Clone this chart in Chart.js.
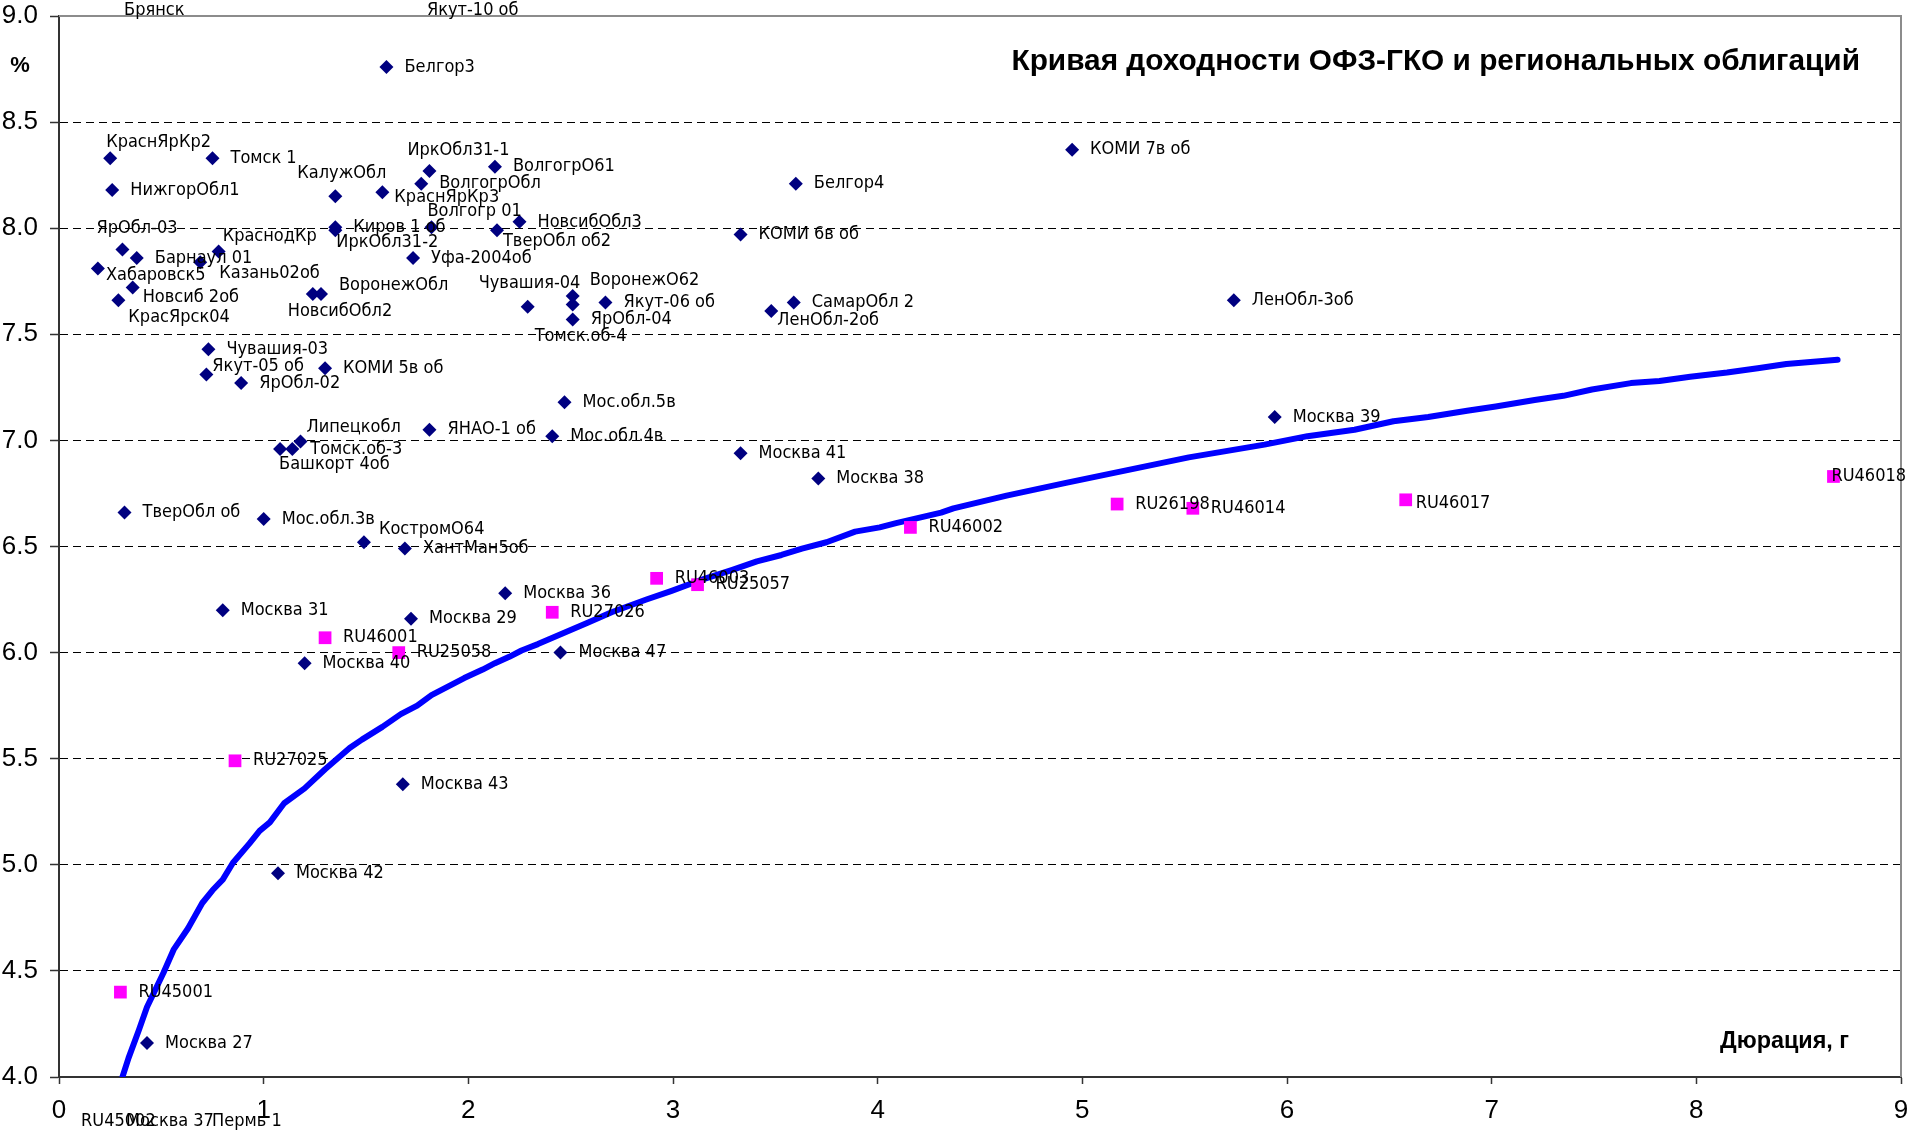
<!DOCTYPE html>
<html>
<head>
<meta charset="utf-8">
<title>Кривая доходности</title>
<script src="https://cdn.jsdelivr.net/npm/chart.js@4.4.1/dist/chart.umd.min.js"></script>
<style>
    html, body { margin: 0; padding: 0; background: #fff; }
    #wrap { width: 1910px; height: 1130px; }
</style>
</head>
<body>
<div id="wrap"><canvas id="yieldChart" width="1910" height="1130"></canvas></div>
<script>
// ===============================
// DATA
// ===============================
const regionNames = [
    "Белгор3", "КраснЯрКр2", "Томск 1", "НижгорОбл1", "КалужОбл", "ИркОбл31-1",
    "ВолгогрО61", "ВолгогрОбл", "КраснЯрКр3", "Волгогр 01", "Киров 1 об", "ИркОбл31-2",
    "НовсибОбл3", "ТверОбл об2", "ЯрОбл-03", "Барнаул 01", "Казань02об", "КраснодКр",
    "Хабаровск5", "Новсиб 2об", "КрасЯрск04", "НовсибОбл2", "ВоронежОбл", "Уфа-2004об",
    "Чувашия-04", "ВоронежО62", "Томск.об-4", "ЯрОбл-04", "Якут-06 об", "КОМИ 6в об",
    "Белгор4", "КОМИ 7в об", "СамарОбл 2", "ЛенОбл-2об", "ЛенОбл-3об", "Чувашия-03",
    "Якут-05 об", "КОМИ 5в об", "ЯрОбл-02", "Мос.обл.5в", "ЯНАО-1 об", "Мос.обл.4в",
    "Липецкобл", "Томск.об-3", "Башкорт 4об", "Москва 41", "Москва 38", "Москва 39",
    "ТверОбл об", "Мос.обл.3в", "КостромО64", "ХантМан5об", "Москва 36", "Москва 31",
    "Москва 29", "Москва 40", "Москва 47", "Москва 43", "Москва 42", "Москва 27"
];
const regionDuration = [
    1.60, 0.25, 0.75, 0.26, 1.35, 1.81,
    2.13, 1.77, 1.58, 1.82, 1.35, 1.35,
    2.25, 2.14, 0.31, 0.38, 0.69, 0.78,
    0.19, 0.36, 0.29, 1.24, 1.28, 1.73,
    2.29, 2.51, 2.51, 2.51, 2.67, 3.33,
    3.60, 4.95, 3.59, 3.48, 5.74, 0.73,
    0.72, 1.30, 0.89, 2.47, 1.81, 2.41,
    1.18, 1.14, 1.08, 3.33, 3.71, 5.94,
    0.32, 1.00, 1.49, 1.69, 2.18, 0.80,
    1.72, 1.20, 2.45, 1.68, 1.07, 0.43
];
const regionYield = [
    8.76, 8.33, 8.33, 8.18, 8.15, 8.27,
    8.29, 8.21, 8.17, 8.005, 8.005, 7.99,
    8.03, 7.99, 7.90, 7.86, 7.84, 7.89,
    7.81, 7.72, 7.66, 7.69, 7.69, 7.86,
    7.63, 7.68, 7.64, 7.57, 7.65, 7.97,
    8.21, 8.37, 7.65, 7.61, 7.66, 7.43,
    7.31, 7.34, 7.27, 7.18, 7.05, 7.02,
    6.995, 6.96, 6.96, 6.94, 6.82, 7.11,
    6.66, 6.63, 6.52, 6.49, 6.28, 6.20,
    6.16, 5.95, 6.00, 5.38, 4.96, 4.16
];

const ofzNames = [
    "RU45001", "RU27025", "RU46001", "RU25058", "RU27026", "RU46003",
    "RU25057", "RU46002", "RU26198", "RU46014", "RU46017", "RU46018"
];
const ofzDuration = [0.30, 0.86, 1.30, 1.66, 2.41, 2.92, 3.12, 4.16, 5.17, 5.54, 6.58, 8.67];
const ofzYield = [4.40, 5.49, 6.07, 6.00, 6.19, 6.35, 6.32, 6.59, 6.70, 6.68, 6.72, 6.83];

// yield curve OFZ-GKO
const curveDuration = [
    0.31, 0.34, 0.39, 0.43, 0.51, 0.56, 0.63, 0.70, 0.75, 0.80, 0.85, 0.93,
    0.98, 1.03, 1.10, 1.20, 1.30, 1.42, 1.48, 1.58, 1.67, 1.75, 1.82, 1.90,
    1.98, 2.07, 2.13, 2.20, 2.26, 2.34, 2.46, 2.58, 2.70, 2.87, 2.99, 3.13,
    3.29, 3.41, 3.53, 3.63, 3.75, 3.89, 4.01, 4.09, 4.31, 4.37, 4.63, 4.92,
    5.22, 5.52, 5.89, 6.10, 6.33, 6.52, 6.69, 6.88, 7.02, 7.21, 7.35, 7.49,
    7.68, 7.82, 7.97, 8.15, 8.30, 8.44, 8.69
];
const curveYield = [
    4.00, 4.09, 4.22, 4.33, 4.49, 4.60, 4.70, 4.82, 4.88, 4.93, 5.01, 5.10,
    5.16, 5.20, 5.29, 5.36, 5.45, 5.55, 5.59, 5.65, 5.71, 5.75, 5.80, 5.84,
    5.88, 5.92, 5.95, 5.98, 6.01, 6.04, 6.09, 6.14, 6.19, 6.25, 6.29, 6.34,
    6.39, 6.43, 6.46, 6.49, 6.52, 6.57, 6.59, 6.61, 6.66, 6.68, 6.74, 6.80,
    6.86, 6.92, 6.98, 7.02, 7.05, 7.09, 7.11, 7.14, 7.16, 7.19, 7.21, 7.24,
    7.27, 7.28, 7.30, 7.32, 7.34, 7.36, 7.38
];

// bonds outside the visible range: only labels, pinned to the axis limit
const offNames = ["Брянск", "Якут-10 об", "RU45002", "Москва 37", "Пермь 1"];
const offDuration = [0.23, 1.71, 0.02, 0.24, 0.66];
const offYield = [9.0, 9.0, 4.0, 4.0, 4.0];

const xTickValues = [0, 1, 2, 3, 4, 5, 6, 7, 8, 9];
const yTickValues = [4.0, 4.5, 5.0, 5.5, 6.0, 6.5, 7.0, 7.5, 8.0, 8.5, 9.0];

const chartTitle = "Кривая доходности ОФЗ-ГКО и региональных облигаций";
const xTitle = "Дюрация, г";
const yTitle = "%";


// ===============================
// LABEL PLACEMENT (px from point)
// ===============================
const defaultShift = [18, 0];
const labelShift = {
    "КраснЯрКр2": [-4, -16], "КалужОбл": [-38, -23], "ИркОбл31-1": [-22, -21],
    "КраснЯрКр3": [12, 5], "Волгогр 01": [-4, -16], "ИркОбл31-2": [1, 12],
    "ТверОбл об2": [6, 11], "ЯрОбл-03": [-26, -21], "Казань02об": [19, 11],
    "КраснодКр": [4, -15], "Хабаровск5": [8, 7], "Новсиб 2об": [10, 10],
    "КрасЯрск04": [10, 17], "НовсибОбл2": [-25, 17], "ВоронежОбл": [18, -9],
    "Чувашия-04": [-49, -23], "ВоронежО62": [17, -16], "Томск.об-4": [-38, 32],
    "ЛенОбл-2об": [6, 9], "Якут-05 об": [6, -8], "Липецкобл": [6, -14],
    "Башкорт 4об": [-1, 15], "КостромО64": [15, -13], "RU46017": [10, 4],
    "RU46018": [-2, 0],
    "Брянск": [18, -6], "Якут-10 об": [18, -6],
    "RU45002": [18, 44], "Москва 37": [18, 44], "Пермь 1": [18, 44]
};


// ===============================
// FONTS (fit to widths in the picture)
// ===============================
function fitFont(weight, family, sample, target) {
    const c = document.createElement("canvas").getContext("2d");
    c.font = weight + " 20px " + family;
    const w = c.measureText(sample).width;
    return weight + " " + (20 * target / w).toFixed(1) + "px " + family;
}

const labelFamily = '"DejaVu Sans Condensed", "DejaVu Sans", sans-serif';
const boldFamily = '"Liberation Sans", Arial, sans-serif';
const labelFont = fitFont("normal", labelFamily, "Москва 27", 88);
const titleFont = fitFont("bold", boldFamily, chartTitle, 850);
const xTitleFont = fitFont("bold", boldFamily, xTitle, 129);


// ===============================
// PLUGINS
// ===============================
const frame = {
    id: "frame",
    beforeDatasetsDraw(chart) {
        const { ctx, chartArea: a } = chart;
        ctx.save();
        ctx.strokeStyle = "#8c8c8c";
        ctx.lineWidth = 2;
        ctx.beginPath();
        ctx.moveTo(a.left, a.top);
        ctx.lineTo(a.right, a.top);
        ctx.lineTo(a.right, a.bottom);
        ctx.stroke();
        ctx.restore();
    }
};

const pointLabels = {
    id: "pointLabels",
    afterDatasetsDraw(chart) {
        const ctx = chart.ctx;
        ctx.save();
        ctx.font = labelFont;
        ctx.fillStyle = "#000";
        ctx.textAlign = "left";
        ctx.textBaseline = "middle";
        chart.data.datasets.forEach((ds, i) => {
            if (!ds.names) return;
            chart.getDatasetMeta(i).data.forEach((pt, j) => {
                const name = ds.names[j];
                const s = labelShift[name] || defaultShift;
                ctx.fillText(name, pt.x + s[0], pt.y + s[1]);
            });
        });
        ctx.restore();
    }
};

const titles = {
    id: "titles",
    afterDraw(chart) {
        const { ctx, chartArea: a } = chart;
        ctx.save();
        ctx.fillStyle = "#000";
        ctx.textBaseline = "middle";

        ctx.font = titleFont;
        ctx.textAlign = "right";
        ctx.fillText(chartTitle, a.right - 41, 62);

        ctx.font = xTitleFont;
        ctx.textAlign = "left";
        ctx.fillText(xTitle, a.right - 181, a.bottom - 35);

        ctx.font = "bold 22px " + boldFamily;
        ctx.textAlign = "center";
        ctx.fillText(yTitle, 20, 66);
        ctx.restore();
    }
};


// ===============================
// CHART
// ===============================
const tickFont = { family: "Liberation Sans", size: 26 };

new Chart(document.getElementById("yieldChart"), {
    type: "scatter",
    data: {
        datasets: [
            {
                label: "Регионы",
                names: regionNames,
                data: regionDuration.map((d, i) => ({ x: d, y: regionYield[i] })),
                pointStyle: "rectRot",
                pointRadius: 7,
                backgroundColor: "#000080",
                borderColor: "#000080",
                borderWidth: 0,
                order: 1
            },
            {
                label: "ОФЗ",
                names: ofzNames,
                data: ofzDuration.map((d, i) => ({ x: d, y: ofzYield[i] })),
                pointStyle: "rect",
                pointRadius: 9,
                backgroundColor: "#ff00ff",
                borderColor: "#ff00ff",
                borderWidth: 0,
                order: 2
            },
            {
                label: "Кривая ОФЗ-ГКО",
                data: curveDuration.map((d, i) => ({ x: d, y: curveYield[i] })),
                showLine: true,
                pointRadius: 0,
                borderColor: "#0000ff",
                borderWidth: 6,
                borderCapStyle: "round",
                borderJoinStyle: "round",
                tension: 0,
                fill: false,
                order: 3
            },
            {
                label: "Вне шкалы",
                names: offNames,
                data: offDuration.map((d, i) => ({ x: d, y: offYield[i] })),
                pointRadius: 0,
                order: 0
            }
        ]
    },
    options: {
        responsive: false,
        animation: false,
        devicePixelRatio: 1,
        layout: { padding: { top: 16, right: 4, left: 0, bottom: 0 } },
        plugins: {
            legend: { display: false },
            tooltip: { enabled: false }
        },
        scales: {
            x: {
                type: "linear",
                min: 0,
                max: 9,
                afterBuildTicks: s => { s.ticks = xTickValues.map(v => ({ value: v })); },
                afterFit: s => { s.height = 53; s.paddingRight = 0; s.paddingLeft = 0; },
                ticks: { font: tickFont, color: "#000", padding: 11, maxRotation: 0, autoSkip: false },
                grid: { drawOnChartArea: false, tickLength: 7, tickColor: "#333", tickWidth: 1.5 },
                border: { color: "#333", width: 2 }
            },
            y: {
                min: 4,
                max: 9,
                afterBuildTicks: s => { s.ticks = yTickValues.map(v => ({ value: v })); },
                afterFit: s => { s.width = 59; s.paddingTop = 0; s.paddingBottom = 0; },
                ticks: {
                    font: tickFont,
                    color: "#000",
                    padding: 12,
                    autoSkip: false,
                    callback: v => Number(v).toFixed(1)
                },
                grid: {
                    color: c => (c.tick && (c.tick.value === 4 || c.tick.value === 9)) ? "rgba(0,0,0,0)" : "#000",
                    lineWidth: 1,
                    tickLength: 9,
                    tickColor: "#333",
                    tickWidth: 1.5
                },
                border: { color: "#333", width: 2, dash: [8, 5] }
            }
        }
    },
    plugins: [frame, pointLabels, titles]
});
</script>
</body>
</html>
